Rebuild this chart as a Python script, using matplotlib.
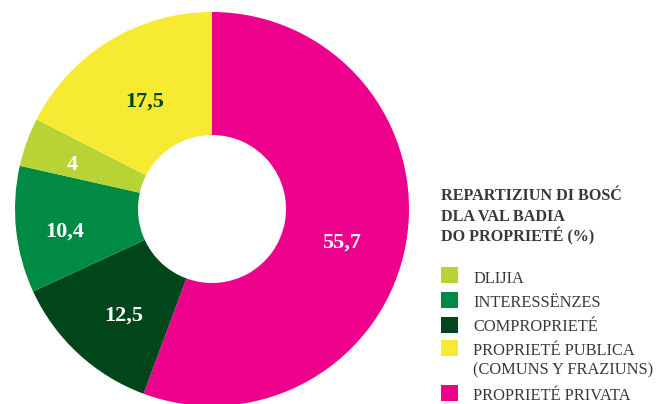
import numpy as np
import matplotlib
matplotlib.use('Agg')
import matplotlib.pyplot as plt
from matplotlib.patches import Rectangle

plt.rcParams['font.family'] = ['Liberation Serif', 'DejaVu Serif']

# Shares of forest ownership (%), clockwise from 12 o'clock
categories = ['PROPRIETÉ PRIVATA', 'COMPROPRIETÉ', 'INTERESSËNZES', 'DLIJIA',
              'PROPRIETÉ PUBLICA']
values = [55.7, 12.5, 10.4, 4, 17.5]
value_labels = ['55,7', '12,5', '10,4', '4', '17,5']
colors = ['#EC008C', '#00461A', '#008A44', '#B7D334', '#F6EB32']
label_colors = ['white', 'white', 'white', 'white', '#00461A']

legend_order = ['DLIJIA', 'INTERESSËNZES', 'COMPROPRIETÉ', 'PROPRIETÉ PUBLICA',
                'PROPRIETÉ PRIVATA']
legend_extra = {'PROPRIETÉ PUBLICA': '(COMUNS Y FRAZIUNS)'}
title_lines = ['REPARTIZIUN DI BOSĆ', 'DLA VAL BADIA', 'DO PROPRIETÉ (%)']

W, H = 659, 404
fig = plt.figure(figsize=(W / 100, H / 100), dpi=100)

# donut axes: centre (212, 209) px, outer radius 197 px
R = 197
ax = fig.add_axes([(212 - R) / W, (H - 209 - R) / H, 2 * R / W, 2 * R / H])
wedges, _ = ax.pie(values, colors=colors, startangle=90, counterclock=False,
                   radius=1, wedgeprops=dict(width=1 - 74 / R, linewidth=0))
ax.set_xlim(-1, 1)
ax.set_ylim(-1, 1)
ax.set_aspect('equal')
ax.axis('off')

# value labels placed near the middle of each ring segment
label_r = [0.674, 0.695, 0.755, 0.745, 0.657]
label_dang = [-3.2, 2.4, 1.9, 1.5, 0]
for w, txt, c, lr, da in zip(wedges, value_labels, label_colors, label_r, label_dang):
    ang = np.deg2rad((w.theta1 + w.theta2) / 2 + da)
    ax.text(lr * np.cos(ang), lr * np.sin(ang), txt, ha='center', va='center_baseline',
            color=c, fontsize=16, fontweight='bold')

# legend drawn in figure pixel coordinates
text_color = '#383838'
for line, base in zip(title_lines, [200, 221, 241]):
    fig.text(441 / W, 1 - base / H, line, ha='left', va='baseline', fontsize=11.6,
             fontweight='bold', color=text_color)

box_top = [267, 292, 317, 340, 385]
text_base = [283, 307, 331, 355, 400]
for name, bt, tb in zip(legend_order, box_top, text_base):
    col = colors[categories.index(name)]
    fig.patches.append(Rectangle((441 / W, 1 - (bt + 16) / H), 17 / W, 16 / H,
                                 transform=fig.transFigure, color=col, lw=0))
    fig.text(473 / W, 1 - tb / H, name, ha='left', va='baseline',
             fontsize=11.8, color=text_color)
    if name in legend_extra:
        fig.text(473 / W, 1 - (tb + 19) / H, legend_extra[name], ha='left',
                 va='baseline', fontsize=11.8, color=text_color)

fig.savefig('out.png', dpi=100)
